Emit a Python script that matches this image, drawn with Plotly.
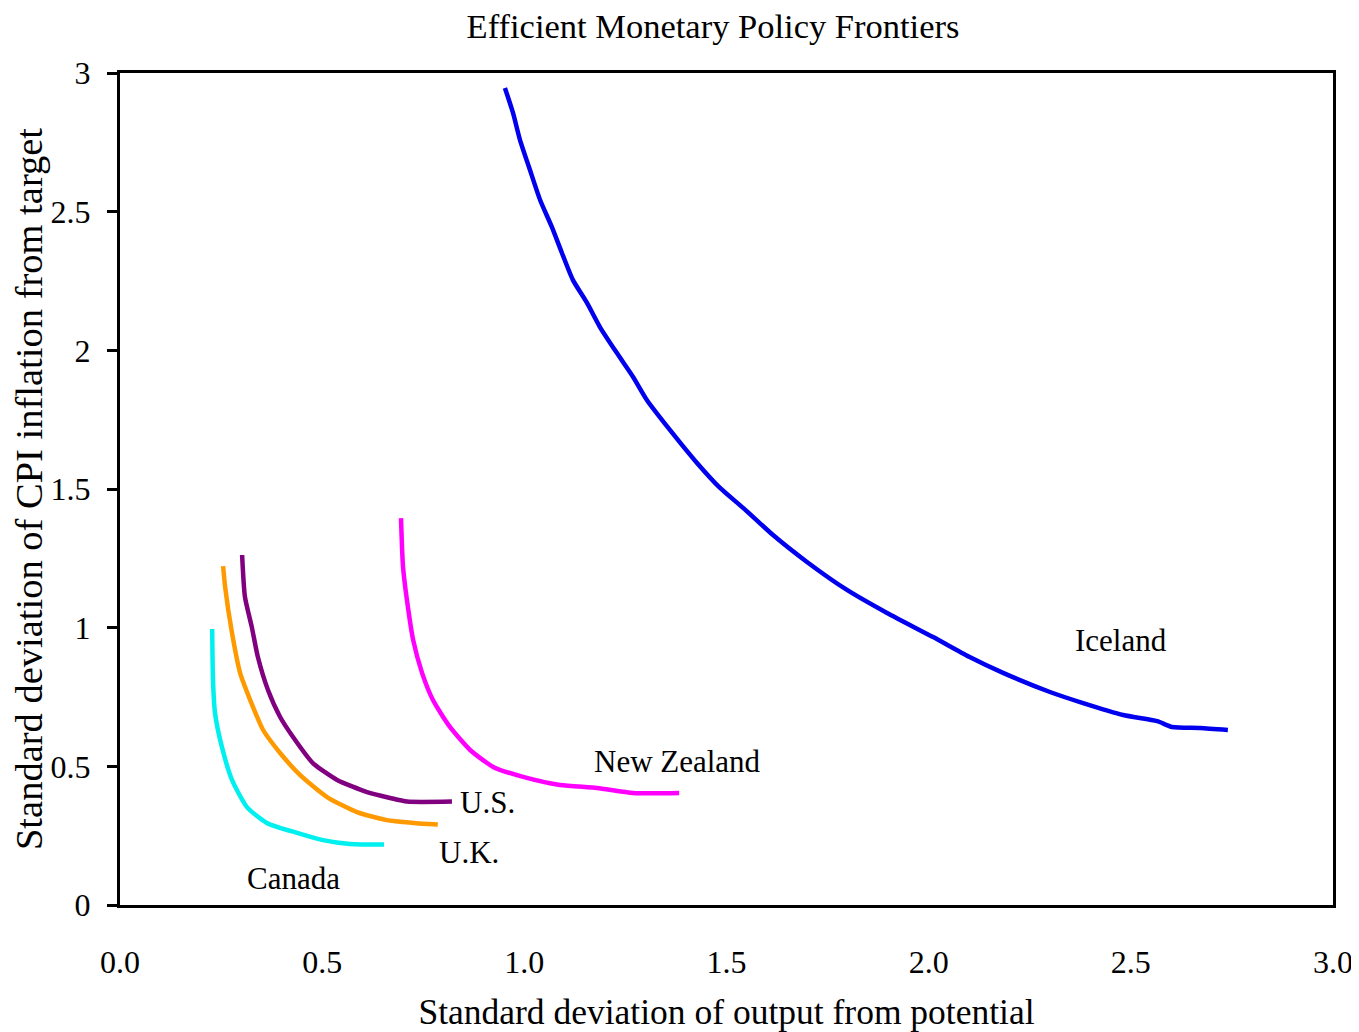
import plotly.graph_objects as go

# ---- data ----
iceland_x = [0.952, 0.972, 0.989, 1.014, 1.039, 1.068, 1.093, 1.120, 1.155, 1.187,
             1.229, 1.269, 1.303, 1.360, 1.427, 1.484, 1.541, 1.615, 1.699, 1.798,
             1.897, 2.011, 2.100, 2.184, 2.300, 2.382, 2.481, 2.565, 2.602, 2.671,
             2.740]
iceland_y = [2.946, 2.856, 2.760, 2.650, 2.542, 2.445, 2.351, 2.254, 2.171, 2.084,
             1.990, 1.904, 1.821, 1.713, 1.594, 1.504, 1.432, 1.334, 1.237, 1.136,
             1.053, 0.966, 0.895, 0.837, 0.768, 0.728, 0.685, 0.663, 0.642, 0.638,
             0.631]

nz_x = [0.695, 0.700, 0.712, 0.725, 0.747, 0.774, 0.816, 0.866, 0.923, 0.997,
        1.088, 1.180, 1.269, 1.383]
nz_y = [1.395, 1.219, 1.075, 0.956, 0.837, 0.739, 0.642, 0.559, 0.498, 0.462,
        0.433, 0.422, 0.404, 0.404]

us_x = [0.302, 0.309, 0.326, 0.341, 0.366, 0.396, 0.428, 0.477, 0.537, 0.611,
        0.668, 0.710, 0.821]
us_y = [1.262, 1.111, 1.002, 0.894, 0.775, 0.678, 0.606, 0.512, 0.451, 0.407,
        0.386, 0.373, 0.373]

uk_x = [0.255, 0.260, 0.277, 0.297, 0.322, 0.354, 0.396, 0.445, 0.512, 0.586,
        0.660, 0.725, 0.786]
uk_y = [1.222, 1.147, 0.981, 0.837, 0.739, 0.631, 0.548, 0.469, 0.389, 0.335,
        0.306, 0.296, 0.290]

canada_x = [0.228, 0.230, 0.235, 0.252, 0.277, 0.314, 0.363, 0.438, 0.502, 0.569,
            0.653]
canada_y = [0.995, 0.811, 0.692, 0.570, 0.451, 0.353, 0.296, 0.260, 0.234, 0.220,
            0.218]

series_names = ["Iceland", "New Zealand", "U.S.", "U.K.", "Canada"]
series_colors = ["#0000EE", "#FF00FF", "#800080", "#FF9900", "#00F0F0"]

label_text = ["Iceland", "New Zealand", "U.S.", "U.K.", "Canada"]
label_x = [2.476, 1.380, 0.908, 0.863, 0.428]
label_y = [0.955, 0.516, 0.368, 0.191, 0.094]

x_ticks = [0.0, 0.5, 1.0, 1.5, 2.0, 2.5, 3.0]
x_tick_text = ["0.0", "0.5", "1.0", "1.5", "2.0", "2.5", "3.0"]
y_ticks = [0, 0.5, 1, 1.5, 2, 2.5, 3]
y_tick_text = ["0", "0.5", "1", "1.5", "2", "2.5", "3"]

FONT = "Liberation Serif, Times New Roman, serif"

# the page body adds an 8px offset; size the figure to reach the window edges
W, H = 1359 - 8, 1032 - 8

fig = go.Figure()
all_x = [iceland_x, nz_x, us_x, uk_x, canada_x]
all_y = [iceland_y, nz_y, us_y, uk_y, canada_y]
for name, color, xs, ys in zip(series_names, series_colors, all_x, all_y):
    fig.add_trace(go.Scatter(x=xs, y=ys, mode="lines", name=name,
                             line=dict(color=color, width=4.5, shape="spline",
                                       smoothing=0.6),
                             showlegend=False))

for t, lx, ly in zip(label_text, label_x, label_y):
    fig.add_annotation(x=lx, y=ly, text=t, showarrow=False,
                       font=dict(family=FONT, size=31, color="black"))

fig.update_layout(
    width=W, height=H,
    margin=dict(l=112, r=26, t=65, b=127),
    paper_bgcolor="white", plot_bgcolor="white",
    font=dict(family=FONT, color="black"),
    title=dict(text="Efficient Monetary Policy Frontiers", x=705 / W, xanchor="center",
               xref="container",
               y=1 - 18 / H, yanchor="middle", yref="container",
               font=dict(family=FONT, size=34.5, color="black")),
    xaxis=dict(range=[0, 3], tickvals=x_ticks, ticktext=x_tick_text,
               showgrid=False, zeroline=False, showline=True, linecolor="black",
               linewidth=3, mirror=True, ticks="", ticklabelstandoff=27,
               automargin=False, ticklabeloverflow="allow",
               tickfont=dict(family=FONT, size=32),
               title=dict(text="Standard deviation of output from potential",
                          font=dict(family=FONT, size=35.5), standoff=36)),
    yaxis=dict(range=[0, 3], tickvals=y_ticks, ticktext=y_tick_text,
               showgrid=False, zeroline=False, showline=True, linecolor="black",
               linewidth=3, mirror=True, ticks="outside", ticklen=10, tickwidth=3,
               tickcolor="black", ticklabelstandoff=10, automargin=False,
               tickfont=dict(family=FONT, size=32),
               title=dict(text="Standard deviation of CPI inflation from target",
                          font=dict(family=FONT, size=38.5), standoff=4)),
)

fig.write_html("out.html")
